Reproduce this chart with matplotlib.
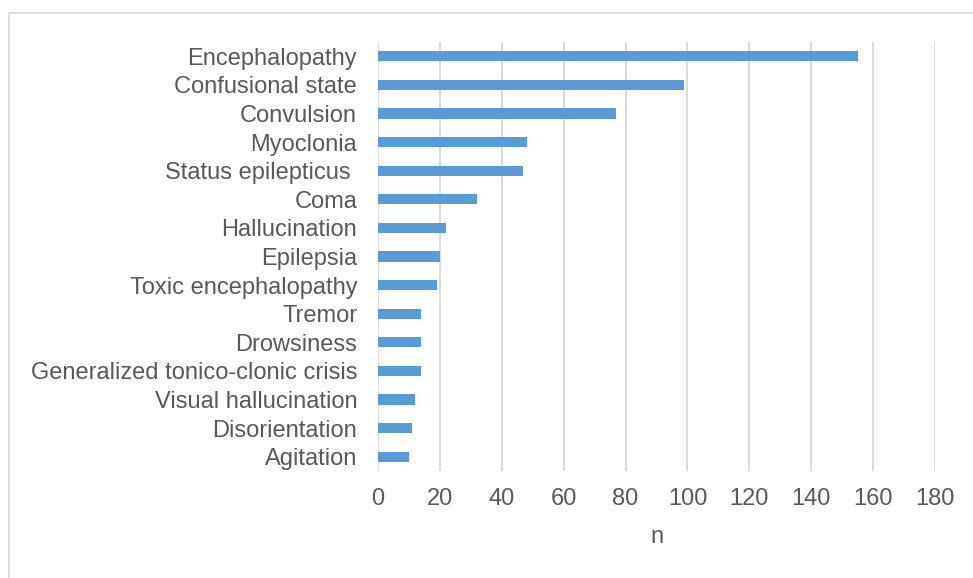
import matplotlib
matplotlib.use("Agg")
from matplotlib import pyplot as plt
from matplotlib.patches import Rectangle

symptoms = [
	"Encephalopathy", "Confusional state", "Convulsion", "Myoclonia",
	"Status epilepticus ", "Coma", "Hallucination", "Epilepsia",
	"Toxic encephalopathy", "Tremor", "Drowsiness",
	"Generalized tonico-clonic crisis", "Visual hallucination",
	"Disorientation", "Agitation",
]
counts = [155, 99, 77, 48, 47, 32, 22, 20, 19, 14, 14, 14, 12, 11, 10]
xticks = list(range(0, 181, 20))

plt.rcParams['font.family'] = ['Liberation Sans', 'DejaVu Sans']
grey = '#595959'

fig = plt.figure(figsize=(9.73, 5.78), dpi=100)
# light frame round the chart area, as in the source
fig.patches.append(Rectangle((9/973, -0.05), 1.2, 1 - 13/578 + 0.05,
	transform=fig.transFigure, fill=False, edgecolor='#d9d9d9', linewidth=1.2))

ax = fig.add_axes([378/973, 1 - 471/578, (935-378)/973, (471-42)/578])
pos = list(range(len(symptoms)))[::-1]
ax.barh(pos, counts, height=0.36, color='#5b9bd5', zorder=3)

ax.set_xlim(0, 180)
ax.set_ylim(-0.5, len(symptoms) - 0.5)
ax.set_xticks(xticks)
ax.set_yticks(pos)
ax.set_yticklabels(symptoms)
ax.grid(axis='x', color='#d9d9d9', linewidth=1.3, zorder=0)
for s in ax.spines.values():
	s.set_visible(False)
ax.tick_params(axis='both', length=0, labelsize=17, labelcolor=grey)
ax.tick_params(axis='x', pad=12)
ax.tick_params(axis='y', pad=15)
ax.set_xlabel("n", fontsize=17, color=grey, labelpad=12)

fig.savefig("out.png", dpi=100)
